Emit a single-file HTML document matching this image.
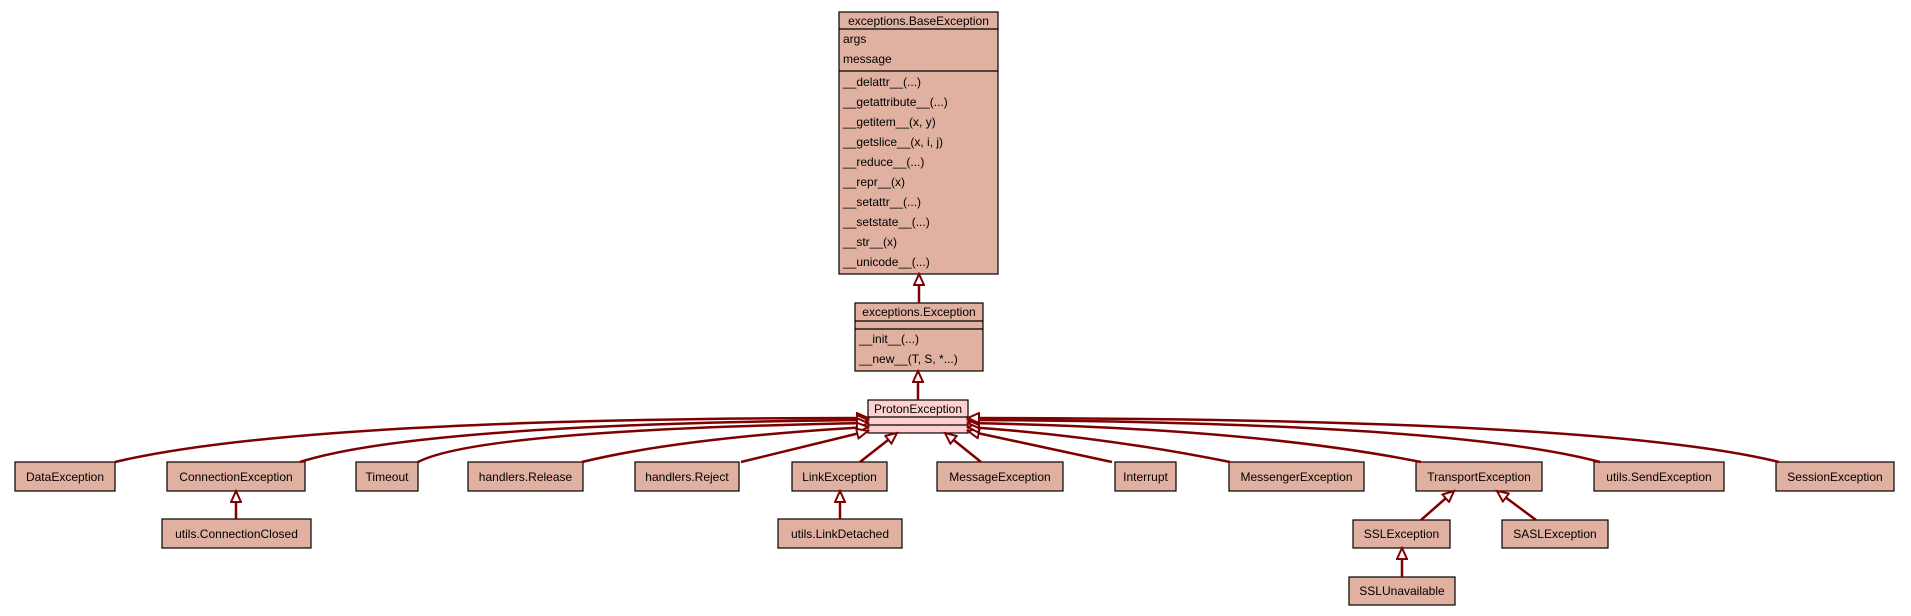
<!DOCTYPE html>
<html><head><meta charset="utf-8"><style>
html,body{margin:0;padding:0;background:#fff;}
svg{display:block;font-family:"Liberation Sans",sans-serif;font-size:12px;}
</style></head><body>
<svg width="1911" height="616" viewBox="0 0 1911 616" xmlns="http://www.w3.org/2000/svg">
<defs>
<marker id="h" markerWidth="14" markerHeight="12" refX="12" refY="6" orient="auto" markerUnits="userSpaceOnUse">
<path d="M1,1 L12,6 L1,11 Z" fill="#fff" stroke="#7f0000" stroke-width="2"/>
</marker>
</defs>
<g fill="#e0b0a0" stroke="#000" stroke-width="1.2">
<rect x="839" y="12" width="159" height="262"/>
<rect x="855" y="303" width="128" height="68"/>
<rect x="868" y="400" width="100" height="33" fill="#ffd0d0"/>
<rect x="15" y="462" width="100" height="29"/>
<rect x="167" y="462" width="138" height="29"/>
<rect x="356" y="462" width="62" height="29"/>
<rect x="468" y="462" width="115" height="29"/>
<rect x="635" y="462" width="104" height="29"/>
<rect x="792" y="462" width="95" height="29"/>
<rect x="937" y="462" width="126" height="29"/>
<rect x="1115" y="462" width="61" height="29"/>
<rect x="1229" y="462" width="135" height="29"/>
<rect x="1416" y="462" width="126" height="29"/>
<rect x="1594" y="462" width="130" height="29"/>
<rect x="1776" y="462" width="118" height="29"/>
<rect x="162" y="519" width="149" height="29"/>
<rect x="778" y="519" width="124" height="29"/>
<rect x="1353" y="520" width="97" height="28"/>
<rect x="1502" y="520" width="106" height="28"/>
<rect x="1349" y="577" width="106" height="28"/>
</g>
<g stroke="#000" stroke-width="1.2">
<line x1="839" y1="29" x2="998" y2="29"/><line x1="839" y1="71" x2="998" y2="71"/>
<line x1="855" y1="321" x2="983" y2="321"/><line x1="855" y1="329" x2="983" y2="329"/>
<line x1="868" y1="417" x2="968" y2="417"/><line x1="868" y1="425" x2="968" y2="425"/>
</g>
<g fill="#000">
<text x="918.5" y="25" text-anchor="middle">exceptions.BaseException</text>
<text x="843" y="43">args</text><text x="843" y="63">message</text>
<text x="843" y="86">__delattr__(...)</text>
<text x="843" y="106">__getattribute__(...)</text>
<text x="843" y="126">__getitem__(x, y)</text>
<text x="843" y="146">__getslice__(x, i, j)</text>
<text x="843" y="166">__reduce__(...)</text>
<text x="843" y="186">__repr__(x)</text>
<text x="843" y="206">__setattr__(...)</text>
<text x="843" y="226">__setstate__(...)</text>
<text x="843" y="246">__str__(x)</text>
<text x="843" y="266">__unicode__(...)</text>
<text x="919" y="316" text-anchor="middle">exceptions.Exception</text>
<text x="859" y="343">__init__(...)</text>
<text x="859" y="363">__new__(T, S, *...)</text>
<text x="918" y="413" text-anchor="middle">ProtonException</text>
<g text-anchor="middle">
<text x="65" y="481">DataException</text>
<text x="236" y="481">ConnectionException</text>
<text x="387" y="481">Timeout</text>
<text x="525.5" y="481">handlers.Release</text>
<text x="687" y="481">handlers.Reject</text>
<text x="839.5" y="481">LinkException</text>
<text x="1000" y="481">MessageException</text>
<text x="1145.5" y="481">Interrupt</text>
<text x="1296.5" y="481">MessengerException</text>
<text x="1479" y="481">TransportException</text>
<text x="1659" y="481">utils.SendException</text>
<text x="1835" y="481">SessionException</text>
<text x="236.5" y="538">utils.ConnectionClosed</text>
<text x="840" y="538">utils.LinkDetached</text>
<text x="1401.5" y="538">SSLException</text>
<text x="1555" y="538">SASLException</text>
<text x="1402" y="595">SSLUnavailable</text>
</g>
</g>
<g fill="none" stroke="#7f0000" stroke-width="2.5" marker-end="url(#h)">
<path d="M919,303 L919,274"/>
<path d="M918,400 L918,371"/>
<path d="M115,462 Q300,418 868,418"/>
<path d="M300,462 Q420,424 868,420"/>
<path d="M418,462 Q480,430 868,423"/>
<path d="M582,462 Q680,438 868,427"/>
<path d="M741,462 L868,431"/>
<path d="M860,462 L897,433"/>
<path d="M981,462 L945,433"/>
<path d="M1112,462 L968,431"/>
<path d="M1230,462 Q1100,436 968,427"/>
<path d="M1421,462 Q1250,428 968,423"/>
<path d="M1600,462 Q1450,422 968,420"/>
<path d="M1779,462 Q1600,418 968,418"/>
<path d="M236,519 L236,491"/>
<path d="M840,519 L840,491"/>
<path d="M1421,520 L1454,491"/>
<path d="M1536,520 L1497,491"/>
<path d="M1402,577 L1402,548"/>
</g>
</svg>
</body></html>
